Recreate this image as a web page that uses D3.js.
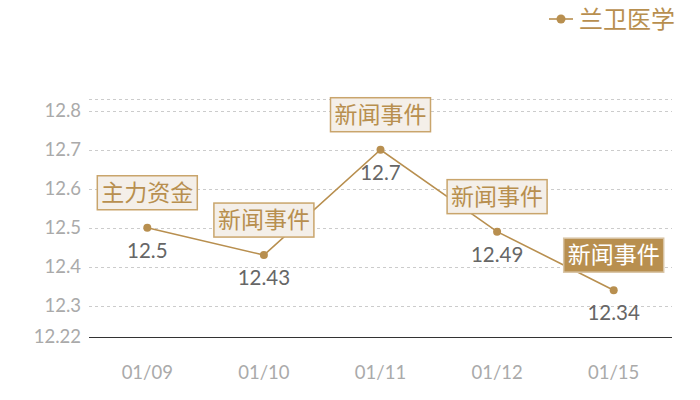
<!DOCTYPE html>
<html><head><meta charset="utf-8">
<script src="https://cdn.jsdelivr.net/npm/d3@7"></script>
<style>body{margin:0;background:#fff;}svg{display:block;font-family:"Noto Sans CJK SC","Noto Sans",sans-serif;}</style>
</head><body><svg id="c" width="700" height="400"></svg>
<script>
const categories = ["01/09","01/10","01/11","01/12","01/15"];
const values = [12.5, 12.43, 12.7, 12.49, 12.34];
const annotations = ["主力资金","新闻事件","新闻事件","新闻事件","新闻事件"];
const highlighted = [false,false,false,false,true];
const yTicks = [12.3,12.4,12.5,12.6,12.7,12.8];
const yMin = 12.22, yMax = 12.83;
const seriesName = "兰卫医学";

const gold = "#b88f4f";
const svg = d3.select("#c");
const x = d3.scaleBand().domain(categories).range([89, 672]);
const y = d3.scaleLinear().domain([yMin, yMax]).range([337, 99]);
const numFont = "Lato, 'Noto Sans', sans-serif";

svg.append("g").selectAll("line").data(yTicks.concat([yMax])).join("line")
  .attr("x1", 89).attr("x2", 672)
  .attr("y1", d => Math.round(y(d))+0.5).attr("y2", d => Math.round(y(d))+0.5)
  .attr("stroke", "#ccc").attr("stroke-dasharray", "3,3");

svg.append("g").selectAll("text").data(yTicks.concat([yMin])).join("text")
  .attr("x", 81).attr("y", d => y(d)).attr("dy", "0.35em")
  .attr("text-anchor", "end").attr("fill", "#aaa").attr("font-size", 18.5)
  .attr("font-family", numFont)
  .text(d => d);

svg.append("line").attr("x1", 89).attr("x2", 672).attr("y1", 337.5).attr("y2", 337.5)
  .attr("stroke", "#333").attr("stroke-width", 1.2);

svg.append("g").selectAll("text").data(categories).join("text")
  .attr("x", d => x(d) + x.bandwidth()/2).attr("y", 373).attr("dy", "0.35em")
  .attr("text-anchor", "middle").attr("fill", "#aaa").attr("font-size", 18.5)
  .attr("font-family", numFont)
  .text(d => d);

const pts = categories.map((c,i) => ({c, v: values[i], a: annotations[i], h: highlighted[i]}));
const cx = d => x(d.c) + x.bandwidth()/2;

svg.append("path").datum(pts)
  .attr("d", d3.line().x(cx).y(d => y(d.v)))
  .attr("fill", "none").attr("stroke", gold).attr("stroke-width", 1.6);

const ag = svg.append("g").selectAll("g").data(pts).join("g");
ag.append("rect")
  .attr("x", d => cx(d) - 50).attr("y", d => y(d.v) - 18 - 34)
  .attr("width", 100).attr("height", 34)
  .attr("fill", d => d.h ? gold : "#f4efe9")
  .attr("stroke", d => d.h ? "#d8c4a4" : "#c9a56c").attr("stroke-width", 1.5);
ag.append("text")
  .attr("x", cx).attr("y", d => y(d.v) - 18 - 17).attr("dy", "0.36em")
  .attr("text-anchor", "middle").attr("font-size", 23)
  .attr("fill", d => d.h ? "#fff" : gold)
  .text(d => d.a);

svg.append("g").selectAll("circle").data(pts).join("circle")
  .attr("cx", cx).attr("cy", d => y(d.v)).attr("r", 4).attr("fill", gold);

svg.append("g").selectAll("text").data(pts).join("text")
  .attr("x", cx).attr("y", d => y(d.v) + 23).attr("dy", "0.35em")
  .attr("text-anchor", "middle").attr("font-size", 20.5).attr("fill", "#666")
  .attr("font-family", numFont)
  .text(d => d.v);

const lg = svg.append("g");
lg.append("line").attr("x1", 549).attr("x2", 573).attr("y1", 19).attr("y2", 19)
  .attr("stroke", gold).attr("stroke-width", 1.6);
lg.append("circle").attr("cx", 561).attr("cy", 19).attr("r", 4.5).attr("fill", gold);
lg.append("text").attr("x", 579).attr("y", 19).attr("dy", "0.36em")
  .attr("font-size", 24).attr("fill", gold).text(seriesName);
</script></body></html>
